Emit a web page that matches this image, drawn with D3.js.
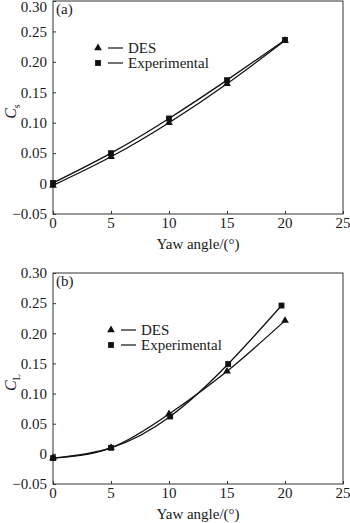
<!DOCTYPE html>
<html>
<head>
<meta charset="utf-8">
<script src="https://cdn.jsdelivr.net/npm/d3@7"></script>
<style>
  body { margin: 0; background: #fff; }
  svg text { font-family: "Liberation Serif", "Times New Roman", serif; fill: #1a1a1a; }
</style>
</head>
<body>
<div id="chart"></div>
<script>
// yaw angle values
const yawTicks = [0, 5, 10, 15, 20, 25]
const coefTicks = [-0.05, 0, 0.05, 0.10, 0.15, 0.20, 0.25, 0.30]

// (a) side force coefficient
const csDesX = [0, 5, 10, 15, 20]
const csDes = [-0.003, 0.044, 0.100, 0.164, 0.235]
const csExpX = [0, 5, 10, 15, 20]
const csExp = [0.001, 0.050, 0.107, 0.170, 0.236]

// (b) lift coefficient
const clDesX = [0, 5, 10, 15, 20]
const clDes = [-0.007, 0.010, 0.066, 0.137, 0.221]
const clExpX = [0, 5, 10.1, 15.1, 19.7]
const clExp = [-0.007, 0.010, 0.062, 0.149, 0.246]

const seriesNames = ["DES", "Experimental"]

const width = 350, height = 523

const svg = d3.select("#chart").append("svg")
    .attr("width", width)
    .attr("height", height)

const drawPanel = (p) => {
    const g = svg.append("g")

    const x = d3.scaleLinear().domain([0, 25]).range([53, 343])
    const y = d3.scaleLinear().domain([-0.05, 0.30]).range([p.bottom, p.top])

    // frame
    g.append("rect")
        .attr("x", x(0)).attr("y", p.top)
        .attr("width", x(25) - x(0)).attr("height", p.bottom - p.top)
        .attr("fill", "none").attr("stroke", "#333").attr("stroke-width", 1)

    // y axis, ticks inward
    const yAxis = g.append("g")
        .attr("transform", `translate(${x(0)},0)`)
        .call(d3.axisRight(y).tickValues(coefTicks).tickSize(3).tickFormat(""))
    yAxis.select(".domain").remove()
    yAxis.selectAll("line").attr("stroke", "#333")

    g.selectAll(".ylab")
        .data(coefTicks)
        .enter().append("text")
        .attr("x", x(0) - 6)
        .attr("y", d => Math.max(y(d), 7))   // keep top label inside the page
        .attr("dy", "0.35em")
        .attr("text-anchor", "end")
        .style("font-size", "15px")
        .text(d => d == 0 ? "0" : (d < 0 ? "\u2212" : "") + d3.format(".2f")(Math.abs(d)))

    // x axis, ticks inward
    const xAxis = g.append("g")
        .attr("transform", `translate(0,${p.bottom})`)
        .call(d3.axisTop(x).tickValues(yawTicks).tickSize(3).tickFormat(""))
    xAxis.select(".domain").remove()
    xAxis.selectAll("line").attr("stroke", "#333")

    g.selectAll(".xlab")
        .data(yawTicks)
        .enter().append("text")
        .attr("x", d => x(d))
        .attr("y", p.bottom + 14)
        .attr("text-anchor", "middle")
        .style("font-size", "15px")
        .text(d => d)

    g.append("text")
        .attr("x", (x(0) + x(25)) / 2)
        .attr("y", p.bottom + 35)
        .attr("text-anchor", "middle")
        .style("font-size", "15px")
        .text("Yaw angle/(\u00b0)")

    // y title, rotated
    const yt = g.append("text")
        .attr("transform", `translate(16,${(p.top + p.bottom) / 2 + 4}) rotate(-90)`)
        .attr("text-anchor", "middle")
        .style("font-size", "16px")
    yt.append("tspan").style("font-style", "italic").text("C")
    yt.append("tspan").attr("dy", 4).style("font-size", "10px").text(p.sub)

    g.append("text")
        .attr("x", x(0) + 3)
        .attr("y", p.top + 13)
        .style("font-size", "15px")
        .text(p.tag)

    const line = d3.line()
        .x(d => x(d[0]))
        .y(d => y(d[1]))
        .curve(d3.curveNatural)

    const series = [
        { pts: d3.zip(p.desX, p.des), sym: d3.symbolTriangle, size: 26 },
        { pts: d3.zip(p.expX, p.exp), sym: d3.symbolSquare, size: 34 }
    ]

    series.forEach(s => {
        g.append("path")
            .attr("d", line(s.pts))
            .attr("fill", "none")
            .attr("stroke", "#111")
            .attr("stroke-width", 1.3)
        g.selectAll(null)
            .data(s.pts)
            .enter().append("path")
            .attr("transform", d => `translate(${x(d[0])},${y(d[1])})`)
            .attr("d", d3.symbol().type(s.sym).size(s.size))
            .attr("fill", "#111")
    })

    // legend
    series.forEach((s, i) => {
        const ly = p.legY + i * 15
        g.append("path")
            .attr("transform", `translate(${p.legX},${ly})`)
            .attr("d", d3.symbol().type(s.sym).size(s.size))
            .attr("fill", "#111")
        g.append("line")
            .attr("x1", p.legX + 10).attr("x2", p.legX + 25)
            .attr("y1", ly).attr("y2", ly)
            .attr("stroke", "#111").attr("stroke-width", 1.2)
        g.append("text")
            .attr("x", p.legX + 30)
            .attr("y", ly)
            .attr("dy", "0.35em")
            .style("font-size", "15px")
            .text(seriesNames[i])
    })
}

drawPanel({ top: 1, bottom: 214, tag: "(a)", sub: "s",
    desX: csDesX, des: csDes, expX: csExpX, exp: csExp, legX: 98, legY: 48 })
drawPanel({ top: 273, bottom: 484, tag: "(b)", sub: "L",
    desX: clDesX, des: clDes, expX: clExpX, exp: clExp, legX: 111, legY: 330 })
</script>
</body>
</html>
